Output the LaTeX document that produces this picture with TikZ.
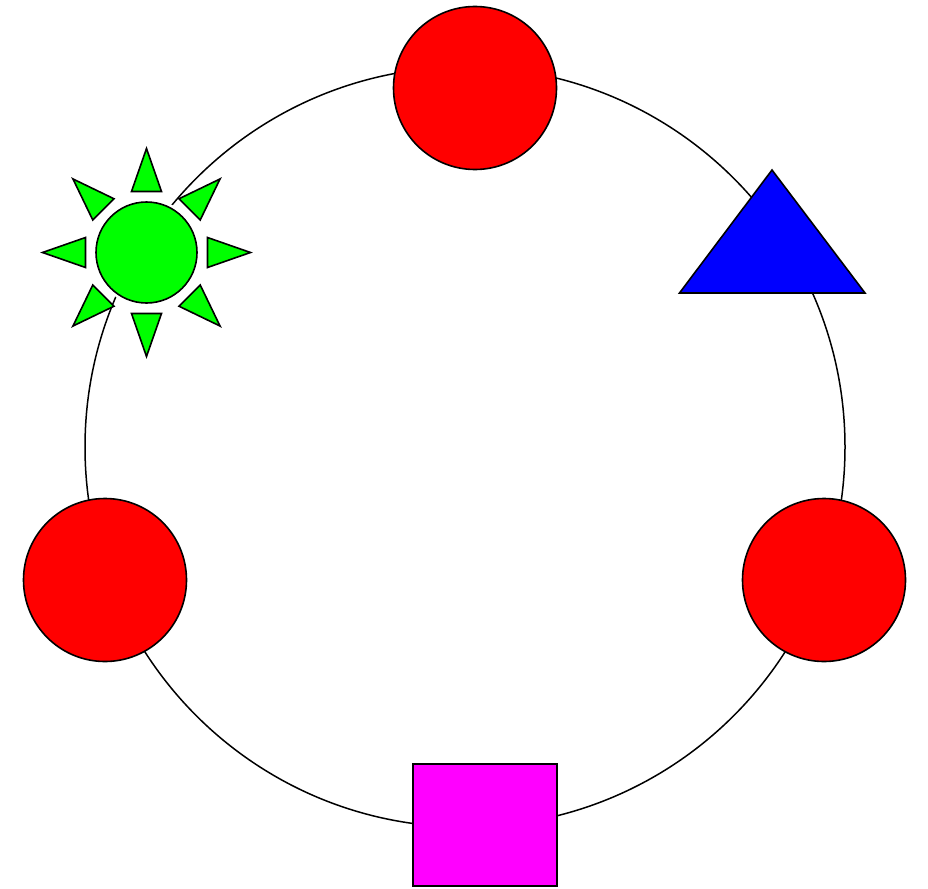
\documentclass[tikz,border=0pt]{standalone}
\definecolor{puremagenta}{RGB}{255,0,255}
\definecolor{puregreen}{RGB}{0,255,0}
\definecolor{purered}{RGB}{255,0,0}
\definecolor{pureblue}{RGB}{0,0,255}
\begin{document}
\begin{tikzpicture}[x=1pt,y=-1pt,
  shapeline/.style={draw=black,line width=1.6pt},
  redball/.style={circle,shapeline,fill=purered,minimum size=163pt,inner sep=0pt}]
\useasboundingbox (0,0) rectangle (928,888);
\draw[line width=1.5pt] (465,447) circle[radius=380];
\node[redball] (top) at (475,88) {};
\node[redball] (left) at (105,580) {};
\node[redball] (right) at (824,580) {};
\node[rectangle,shapeline,fill=puremagenta,minimum width=144pt,minimum height=122pt,inner sep=0pt] (sq) at (485,825) {};
\draw[shapeline,fill=pureblue] (772,170) -- (679.5,293) -- (865,293) -- cycle;
\coordinate (sun) at (146.5,252.5);
\fill[white] (sun) circle[radius=54];
\node[circle,shapeline,fill=puregreen,minimum size=101pt,inner sep=0pt] (suncore) at (sun) {};
\foreach \a in {0,45,...,315}
  \draw[shapeline,fill=puregreen,shift={(sun)},rotate=\a] (104,0) -- (61,15) -- (61,-15) -- cycle;
\end{tikzpicture}
\end{document}
